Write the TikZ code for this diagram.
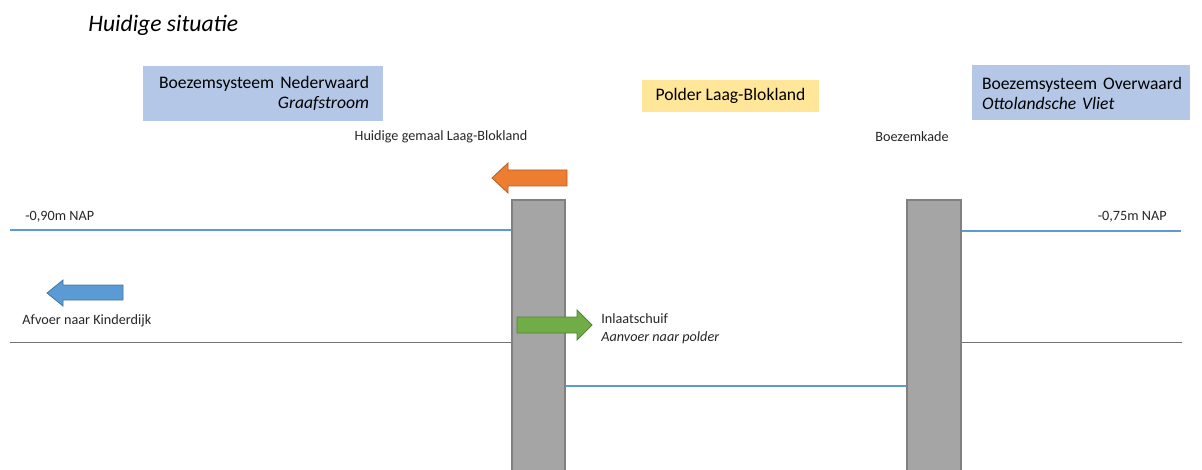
\documentclass[tikz,border=0pt]{standalone}
\usepackage{fontspec}
\setmainfont{Carlito}
\usepackage{xcolor}
\usepackage{tikz}

\definecolor{boxblue}{HTML}{B4C7E7}
\definecolor{boxyellow}{HTML}{FFE699}
\definecolor{waterblue}{HTML}{5B9BD5}
\definecolor{wallgray}{HTML}{A5A5A5}
\definecolor{orangearrow}{HTML}{ED7D31}
\definecolor{greenarrow}{HTML}{70AD47}

\begin{document}
\begin{tikzpicture}[
  x = 0.5pt, y = -0.5pt,
  systembox/.style = {fill = boxblue, minimum height = 27.5pt, inner xsep = 5pt,
                      font = \fontsize{8.8}{10}\selectfont},
  label/.style = {inner sep = 0pt, font = \fontsize{7.1}{9}\selectfont, text = black!85},
  wall/.style = {fill = wallgray, draw = black!50, line width = 0.6pt},
  water/.style = {draw = waterblue, line width = 0.8pt},
  ground/.style = {draw = black!55, line width = 0.5pt}
  ]
  \useasboundingbox (0,0) rectangle (1202,470);

  % title
  \node[anchor = west, inner sep = 0pt, font = \fontsize{11.8}{13}\selectfont\itshape]
    (title) at (88,25) {Huidige situatie};

  % system boxes
  \node[systembox, minimum width = 120pt, inner xsep = 7pt, text width = 106pt, align = right]
    (nederwaard) at (263,93.5) {\mbox{Boezemsysteem\hspace{3pt}Nederwaard}\\ \textit{Graafstroom}};
  \node[systembox, fill = boxyellow, minimum width = 88.5pt, minimum height = 16pt]
    (polder) at (730.5,96) {Polder Laag-Blokland};
  \node[systembox, minimum width = 109pt, text width = 99pt, align = left]
    (overwaard) at (1081,93) {\mbox{Boezemsysteem\hspace{3pt}Overwaard}\\ \textit{Ottolandsche Vliet}};

  % labels
  \node[label] (gemaal) at (441,137) {Huidige gemaal Laag-Blokland};
  \node[label] (kade) at (912,137) {Boezemkade};
  \node[label, anchor = west] (peillinks) at (25,217) {-0,90m NAP};
  \node[label, anchor = east] (peilrechts) at (1167,217) {-0,75m NAP};
  \node[label, anchor = west] (afvoer) at (22,321) {Afvoer naar Kinderdijk};
  \node[label, anchor = north west, align = left] (inlaat) at (601,313)
    {Inlaatschuif\\ \textit{Aanvoer naar polder}};

  % water levels and ground lines
  \draw[water] (10,230) -- (512,230);
  \draw[water] (961,231) -- (1181,231);
  \draw[water] (565,386) -- (907,386);
  \draw[ground] (10,342) -- (512,342);
  \draw[ground] (961,342) -- (1182,342);

  % walls
  \draw[wall] (512,472) -- (512,200) -- (565,200) -- (565,472);
  \draw[wall] (907,472) -- (907,200) -- (961,200) -- (961,472);

  % flow arrows
  \draw[fill = orangearrow, draw = orangearrow!75!black, line width = 0.4pt]
    (492,178) -- (508,163) -- (508,170) -- (567,170) -- (567,186) -- (508,186) -- (508,193) -- cycle;
  \draw[fill = waterblue, draw = waterblue!75!black, line width = 0.4pt]
    (47,293) -- (63,280) -- (63,285) -- (123,285) -- (123,300) -- (63,300) -- (63,306) -- cycle;
  \draw[fill = greenarrow, draw = greenarrow!75!black, line width = 0.4pt]
    (592,325) -- (577,310) -- (577,317) -- (517,317) -- (517,333) -- (577,333) -- (577,340) -- cycle;
\end{tikzpicture}
\end{document}
